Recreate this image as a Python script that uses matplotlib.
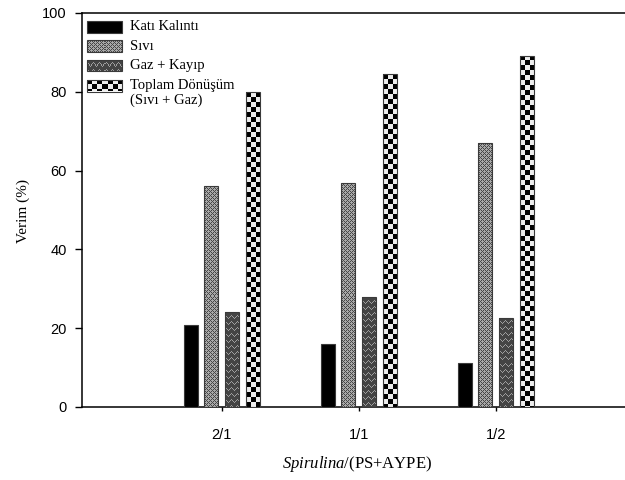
import numpy as np
import matplotlib
matplotlib.use("Agg")
import matplotlib.pyplot as plt
from matplotlib.patches import Rectangle

# ---- data -------------------------------------------------------------
ratios = ["2/1", "1/1", "1/2"]
series_names = ["Katı Kalıntı", "Sıvı", "Gaz + Kayıp", "Toplam Dönüşüm\n(Sıvı + Gaz)"]
kati_kalinti = [20.8, 15.9, 11.1]
sivi = [56.1, 56.9, 66.9]
gaz_kayip = [24.0, 27.8, 22.7]
toplam_donusum = [79.9, 84.4, 89.2]
y_ticks = [0, 20, 40, 60, 80, 100]

plt.rcParams["mathtext.fontset"] = "custom"
plt.rcParams["mathtext.rm"] = "Liberation Serif"
plt.rcParams["mathtext.it"] = "Liberation Serif:italic"

W, H = 625, 480
fig = plt.figure(figsize=(W / 100, H / 100), dpi=100)
ax_left, ax_bottom, ax_top = 82, 407, 13
xmin, xmax = -0.02, 3.97
px_per_unit = 137.0
ax = fig.add_axes([ax_left / W, (H - ax_bottom) / H,
                   (xmax - xmin) * px_per_unit / W, (ax_bottom - ax_top) / H])
ax.set_xlim(xmin, xmax)
ax.set_ylim(0, 100)


# ---- fill textures ----------------------------------------------------
def texture(kind, h, w):
    i, j = np.mgrid[0:h, 0:w]
    img = np.zeros((h, w, 3))
    if kind == "dots":
        base = np.full((h, w), 0.66)
        mask = ((i + j) % 4 == 0) | ((i - j) % 4 == 0)
        base[mask] = 0.28
        img[:] = base[..., None]
    elif kind == "wave":
        base = np.full((h, w), 0.27)
        tri = np.abs((j % 6) - 3)
        mask = ((i + tri) % 6 == 0)
        base[mask] = 0.62
        img[:] = base[..., None]
    elif kind == "checker":
        c = 5
        base = np.where(((i // c) + (j // c)) % 2 == 0, 0.0, 0.93)
        img[:] = base[..., None]
    return img


def fill_patch(patch, kind):
    """Paint a pixel-scale texture inside a rectangle patch."""
    trans = patch.get_data_transform()
    x0, y0 = patch.get_x(), patch.get_y()
    x1, y1 = x0 + patch.get_width(), y0 + patch.get_height()
    (px0, py0), (px1, py1) = trans.transform([(x0, y0), (x1, y1)])
    w = max(int(round(abs(px1 - px0))), 1)
    h = max(int(round(abs(py1 - py0))), 1)
    img = texture(kind, h, w)
    im = ax.imshow(img, extent=(x0, x1, y0, y1), transform=trans,
                   interpolation="nearest", aspect="auto", origin="upper",
                   zorder=patch.get_zorder() - 0.1)
    im.set_clip_path(patch)
    patch.set_facecolor("none")


kinds = ["solid", "dots", "wave", "checker"]
series = [kati_kalinti, sivi, gaz_kayip, toplam_donusum]
x = np.arange(1, len(ratios) + 1)
bar_w = 14 / px_per_unit
pitch = 20.7 / px_per_unit
for k, (vals, kind) in enumerate(zip(series, kinds)):
    offs = (k - 1.5) * pitch
    bars = ax.bar(x + offs, vals, width=bar_w, color="black",
                  edgecolor="#3a3a3a", linewidth=0.8, zorder=3)
    if kind != "solid":
        for b in bars:
            fill_patch(b, kind)

ax.set_xlim(xmin, xmax)
ax.set_ylim(0, 100)


# ---- legend (drawn by hand) --------------------------------------------
def fig_to_axes(px, py):
    return ax.transAxes.inverted().transform(
        fig.transFigure.transform((px / W, (H - py) / H)))


row_tops = [21, 40.5, 60, 80]
for top, name, kind in zip(row_tops, series_names, kinds):
    ax0, ay1 = fig_to_axes(87, top)
    ax1, ay0 = fig_to_axes(122, top + 11.5)
    r = Rectangle((ax0, ay0), ax1 - ax0, ay1 - ay0, transform=ax.transAxes,
                  facecolor="black", edgecolor="#3a3a3a", linewidth=0.8,
                  zorder=4)
    ax.add_patch(r)
    if kind != "solid":
        fill_patch(r, kind)
    for n, line in enumerate(name.split("\n")):
        tx, ty = fig_to_axes(130, top + 5.5 + 15 * n)
        ax.text(tx, ty, line, transform=ax.transAxes, fontsize=10.5,
                family="Liberation Serif", va="center", ha="left", zorder=5)

# ---- axes styling -------------------------------------------------------
for side in ["left", "top", "bottom"]:
    ax.spines[side].set_linewidth(1.1)
ax.spines["right"].set_visible(False)
ax.set_yticks(y_ticks)
ax.set_xticks(x)
ax.set_xticklabels(ratios)
ax.tick_params(axis="y", direction="out", length=5, width=1, pad=6,
               labelsize=10.5)
ax.tick_params(axis="x", direction="out", length=3, width=1, pad=12,
               labelsize=10.5)
for lab in ax.get_xticklabels() + ax.get_yticklabels():
    lab.set_family("Liberation Sans")

fig.text(23 / W, 1 - 211 / H, "Verim (%)", rotation=90, ha="center",
         va="center", fontsize=11, family="Liberation Serif")
fig.text(357 / W, 1 - 464 / H, r"$\mathit{Spirulina}$/(PS+AYPE)",
         ha="center", va="center", fontsize=12, family="Liberation Serif")

fig.savefig("out.png", dpi=100)
